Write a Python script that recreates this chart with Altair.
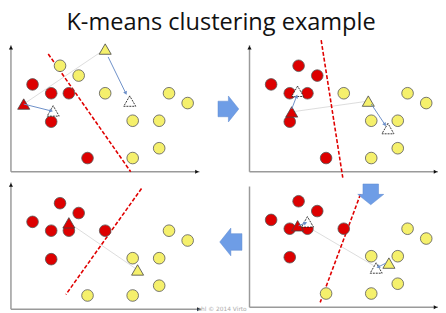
import math
import altair as alt
import pandas as pd

# ---------------- data ----------------
# 14 sample points in feature space (same points in every step)
pt_x = [2.2, 4.1, 5.9, 4.1, 7.8, 5.0, 6.9, 9.6, 16.1, 18.0, 12.4, 15.1, 15.1, 12.4]
pt_y = [8.9, 8.0, 8.0, 5.1, 1.4, 10.8, 9.8, 8.0, 8.0, 7.0, 5.2, 5.2, 2.4, 1.4]

steps = ["step1", "step2", "step3", "step4"]
R, Yl = "red", "yellow"
assign = {
    "step1": [R, R, R, R, R, Yl, Yl, Yl, Yl, Yl, Yl, Yl, Yl, Yl],
    "step2": [R, R, R, R, R, R, R, Yl, Yl, Yl, Yl, Yl, Yl, Yl],
    "step3": [R, R, R, R, Yl, R, R, R, Yl, Yl, Yl, Yl, Yl, Yl],
    "step4": [R, R, R, R, Yl, R, R, R, Yl, Yl, Yl, Yl, Yl, Yl],
}

# centroids: old (coloured triangles) and new (white triangles)
cen_step = ["step1", "step1", "step2", "step2", "step3", "step3", "step4", "step4"]
cen_cluster = [R, Yl, R, Yl, R, Yl, R, Yl]
cen_old_x = [1.3, 9.6, 4.3, 12.1, 4.9, 14.2, 5.9, 12.9]
cen_old_y = [6.9, 12.5, 6.1, 7.2, 8.3, 4.5, 8.8, 4.0]
cen_new_x = [4.3, 12.1, 4.9, 14.1, 5.9, 12.9, None, None]
cen_new_y = [6.2, 7.2, 8.2, 4.4, 8.7, 4.0, None, None]

# movement arrows (old centroid -> new centroid)
mv_step = ["step1", "step1", "step2", "step2", "step3", "step3"]
mv_x1 = [1.3, 9.9, 4.3, 12.4, 5.0, 13.9]
mv_y1 = [6.9, 11.7, 6.4, 6.9, 8.3, 4.5]
mv_x2 = [4.1, 11.7, 4.8, 13.8, 5.7, 13.1]
mv_y2 = [6.2, 8.0, 7.7, 4.8, 8.6, 4.1]

# thin grey line joining the two centroids
cn_step = ["step1", "step2", "step3", "step4"]
cn_x1 = [1.3, 4.3, 5.4, 5.9]
cn_y1 = [6.9, 6.1, 8.5, 8.8]
cn_x2 = [9.6, 12.1, 12.9, 12.9]
cn_y2 = [12.5, 7.2, 4.1, 4.0]

# decision boundary (red dashed)
bd_step = ["step1", "step2", "step3", "step4"]
bd_x1 = [3.8, 7.3, 11.3, 13.3]
bd_y1 = [12.0, 13.4, 11.5, 12.3]
bd_x2 = [12.2, 9.5, 7.2, 5.6]
bd_y2 = [0.0, -0.6, 0.5, 1.5]

# axis extents per panel
ax_step = ["step1", "step2", "step3", "step4"]
ax_xlen = [19.2, 19.2, 19.2, 19.4]
ax_ylen = [12.9, 12.9, 12.3, 12.9]
ax_yarrow = [True, True, False, True]

# ---------------- layout ----------------
OX = {"step1": 1.1, "step2": 25.4, "step3": 25.4, "step4": 1.1}
OY = {"step1": 14.1, "step2": 14.1, "step3": 0.3, "step4": 0.1}

def gx(s, v):
    return OX[s] + v

def gy(s, v):
    return OY[s] + v

points = pd.DataFrame([
    {"gx": gx(s, x), "gy": gy(s, y), "cluster": assign[s][i]}
    for s in steps for i, (x, y) in enumerate(zip(pt_x, pt_y))
])

old_c = pd.DataFrame([
    {"gx": gx(s, x), "gy": gy(s, y), "cluster": c}
    for s, c, x, y in zip(cen_step, cen_cluster, cen_old_x, cen_old_y)
])
new_c = pd.DataFrame([
    {"gx": gx(s, x), "gy": gy(s, y)}
    for s, x, y in zip(cen_step, cen_new_x, cen_new_y) if x is not None
])

def ang(dx, dy):
    a = math.degrees(math.atan2(dx, dy))
    return (a + 360) % 360

moves = pd.DataFrame([
    {"gx": gx(s, a), "gy": gy(s, b), "gx2": gx(s, c), "gy2": gy(s, d),
     "ang": ang(c - a, d - b)}
    for s, a, b, c, d in zip(mv_step, mv_x1, mv_y1, mv_x2, mv_y2)
])
conn = pd.DataFrame([
    {"gx": gx(s, a), "gy": gy(s, b), "gx2": gx(s, c), "gy2": gy(s, d)}
    for s, a, b, c, d in zip(cn_step, cn_x1, cn_y1, cn_x2, cn_y2)
])
bound = pd.DataFrame([
    {"gx": gx(s, a), "gy": gy(s, b), "gx2": gx(s, c), "gy2": gy(s, d)}
    for s, a, b, c, d in zip(bd_step, bd_x1, bd_y1, bd_x2, bd_y2)
])
axes_lines = pd.DataFrame(
    [{"gx": gx(s, 0), "gy": gy(s, 0), "gx2": gx(s, xl), "gy2": gy(s, 0)}
     for s, xl in zip(ax_step, ax_xlen)] +
    [{"gx": gx(s, 0), "gy": gy(s, 0), "gx2": gx(s, 0), "gy2": gy(s, yl)}
     for s, yl in zip(ax_step, ax_ylen)]
)
axis_tips = pd.DataFrame(
    [{"gx": gx(s, xl - 0.25), "gy": gy(s, 0), "ang": 90} for s, xl in zip(ax_step, ax_xlen)] +
    [{"gx": gx(s, 0), "gy": gy(s, yl - 0.25), "ang": 0}
     for s, yl, show in zip(ax_step, ax_ylen, ax_yarrow) if show]
)
flow = pd.DataFrame([
    {"gx": 23.25, "gy": 20.5, "ang": 0, "sz": 700},
    {"gx": 37.75, "gy": 11.8, "ang": 90, "sz": 700},
    {"gx": 23.5, "gy": 6.95, "ang": 180, "sz": 800},
])
title_df = pd.DataFrame([{"gx": 22.5, "gy": 28.55, "t": "K-means clustering example"}])
foot_df = pd.DataFrame([{"gx": 20.1, "gy": 0.15, "t": "ahl © 2014 Virto"}])

# ---------------- chart ----------------
xs = alt.Scale(domain=[0.8, 44.6], nice=False, zero=False)
ys = alt.Scale(domain=[0.0, 30.5], nice=False, zero=False)

def X(f):
    return alt.X(f, type="quantitative", scale=xs, axis=None)

def Y(f):
    return alt.Y(f, type="quantitative", scale=ys, axis=None)

fill_scale = alt.Scale(domain=["red", "yellow"], range=["#dd0000", "#f5f06c"])

axis_layer = alt.Chart(axes_lines).mark_rule(color="#9a9a9a", strokeWidth=1.5).encode(
    x=X("gx"), y=Y("gy"), x2="gx2", y2="gy2")
tip_layer = alt.Chart(axis_tips).mark_point(
    shape="triangle-up", filled=True, color="#111", size=18, opacity=1).encode(
    x=X("gx"), y=Y("gy"), angle=alt.Angle("ang:Q", scale=None))
conn_layer = alt.Chart(conn).mark_rule(color="#dcdcdc", strokeWidth=1).encode(
    x=X("gx"), y=Y("gy"), x2="gx2", y2="gy2")
bound_layer = alt.Chart(bound).mark_rule(
    color="#e00000", strokeWidth=1.6, strokeDash=[4, 2]).encode(
    x=X("gx"), y=Y("gy"), x2="gx2", y2="gy2")
pts_layer = alt.Chart(points).mark_point(
    shape="circle", filled=True, size=140, stroke="#555", strokeWidth=0.8, opacity=1).encode(
    x=X("gx"), y=Y("gy"),
    fill=alt.Fill("cluster:N", scale=fill_scale, legend=None))
old_layer = alt.Chart(old_c).mark_point(
    shape="triangle-up", filled=True, size=150, stroke="#444", strokeWidth=0.8, opacity=1).encode(
    x=X("gx"), y=Y("gy"),
    fill=alt.Fill("cluster:N", scale=fill_scale, legend=None))
new_layer = alt.Chart(new_c).mark_point(
    shape="triangle-up", filled=True, fill="white", size=150, stroke="#222",
    strokeWidth=0.9, strokeDash=[2, 1], opacity=1).encode(
    x=X("gx"), y=Y("gy"))
mv_layer = alt.Chart(moves).mark_rule(color="#6c8fc8", strokeWidth=1).encode(
    x=X("gx"), y=Y("gy"), x2="gx2", y2="gy2")
mv_head = alt.Chart(moves).mark_point(
    shape="triangle-up", filled=True, color="#6c8fc8", size=18, opacity=1).encode(
    x=X("gx2"), y=Y("gy2"), angle=alt.Angle("ang:Q", scale=None))
flow_layer = alt.Chart(flow).mark_point(
    shape="M-0.8,-0.6 L0,-0.6 L0,-1 L0.8,0 L0,1 L0,0.6 L-0.8,0.6 Z",
    filled=True, color="#6e9de6", opacity=1, stroke="#5b87d0", strokeWidth=0.5).encode(
    x=X("gx"), y=Y("gy"),
    angle=alt.Angle("ang:Q", scale=None),
    size=alt.Size("sz:Q", scale=None))
title_layer = alt.Chart(title_df).mark_text(
    font="Open Sans", fontSize=24, color="#111", align="center", baseline="alphabetic").encode(
    x=X("gx"), y=Y("gy"), text="t:N")
foot_layer = alt.Chart(foot_df).mark_text(
    font="DejaVu Sans", fontSize=6, color="#aaaaaa", align="left", baseline="middle").encode(
    x=X("gx"), y=Y("gy"), text="t:N")

chart = alt.layer(
    axis_layer, tip_layer, conn_layer, bound_layer, pts_layer, old_layer,
    new_layer, mv_layer, mv_head, flow_layer, title_layer, foot_layer
).properties(
    width=438, height=305, padding=0, autosize=alt.AutoSizeParams(type="none")
).configure_view(stroke=None)

chart.save("out.html", embed_options={"renderer": "svg", "actions": False})
